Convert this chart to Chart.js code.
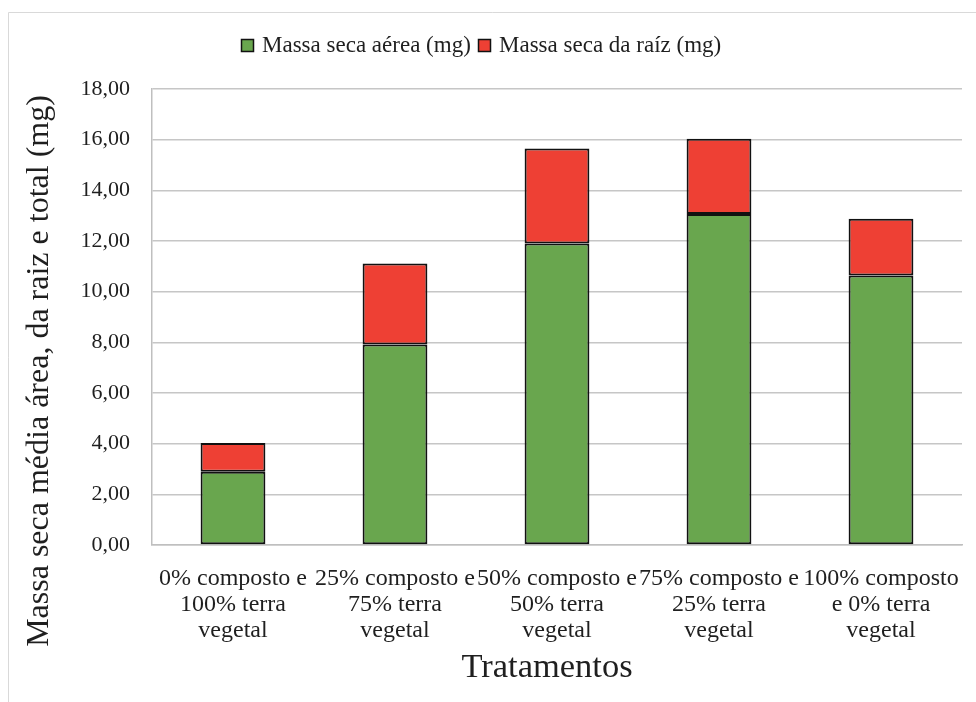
<!DOCTYPE html>
<html>
<head>
<meta charset="utf-8">
<script src="https://cdn.jsdelivr.net/npm/chart.js@4/dist/chart.umd.min.js"></script>
<style>
  html, body { margin: 0; padding: 0; background: #ffffff; }
  #wrap { width: 976px; height: 702px; }
</style>
</head>
<body>
<div id="wrap"><canvas id="c" width="976" height="702"></canvas></div>
<script>
// Treatments (multi-line category labels)
const treatments = [
  ['0% composto e', '100% terra', 'vegetal'],
  ['25% composto e', '75% terra', 'vegetal'],
  ['50% composto e', '50% terra', 'vegetal'],
  ['75% composto e', '25% terra', 'vegetal'],
  ['100% composto', 'e 0% terra', 'vegetal']
];
// Mean dry mass of shoots and roots (mg)
const massaAerea = [2.89, 7.91, 11.90, 13.07, 10.64];
const massaRaiz  = [1.14, 3.20, 3.75, 2.97, 2.24];
const yTicks = [0, 2, 4, 6, 8, 10, 12, 14, 16, 18];
const yTitle = 'Massa seca média área, da raiz e total (mg)';
const xTitle = 'Tratamentos';

const serif = '"Liberation Serif", "Times New Roman", serif';
const textColor = '#1f1f1f';

// white background, light frame, legend row and the two axis titles
const decorPlugin = {
  id: 'decor',
  beforeDraw(chart) {
    const ctx = chart.ctx;
    ctx.save();
    ctx.fillStyle = '#ffffff';
    ctx.fillRect(0, 0, chart.width, chart.height);
    ctx.strokeStyle = '#d9d9d9';
    ctx.lineWidth = 1;
    ctx.beginPath();
    ctx.moveTo(8.5, chart.height);
    ctx.lineTo(8.5, 12.5);
    ctx.lineTo(chart.width, 12.5);
    ctx.stroke();
    ctx.restore();
  },
  afterDraw(chart) {
    const ctx = chart.ctx;
    // legend: one swatch + label per dataset
    ctx.save();
    ctx.font = '23px ' + serif;
    ctx.textBaseline = 'middle';
    ctx.textAlign = 'left';
    const legendX = [241, 478];
    chart.data.datasets.forEach((ds, i) => {
      const x = legendX[i];
      ctx.fillStyle = ds.backgroundColor;
      ctx.fillRect(x, 39, 13, 13);
      ctx.strokeStyle = '#111111';
      ctx.lineWidth = 1.5;
      ctx.strokeRect(x + 0.5, 39.5, 12, 12);
      ctx.fillStyle = textColor;
      ctx.fillText(ds.label, x + 21, 46);
    });
    ctx.restore();

    ctx.save();
    ctx.fillStyle = textColor;
    ctx.textAlign = 'center';
    ctx.textBaseline = 'middle';
    ctx.font = '32px ' + serif;
    ctx.translate(40, 371);
    ctx.rotate(-Math.PI / 2);
    ctx.fillText(yTitle, 0, 0);
    ctx.restore();

    ctx.save();
    ctx.fillStyle = textColor;
    ctx.textAlign = 'center';
    ctx.textBaseline = 'middle';
    ctx.font = '34.5px ' + serif;
    ctx.fillText(xTitle, 547, 668);
    ctx.restore();
  }
};

new Chart(document.getElementById('c'), {
  type: 'bar',
  data: {
    labels: treatments,
    datasets: [
      {
        label: 'Massa seca aérea (mg)',
        data: massaAerea,
        backgroundColor: '#69a64e',
        borderColor: '#111111',
        borderWidth: 2,
        borderSkipped: false,
        barPercentage: 0.4,
        categoryPercentage: 1.0
      },
      {
        label: 'Massa seca da raíz (mg)',
        data: massaRaiz,
        backgroundColor: '#ee4034',
        borderColor: '#111111',
        borderWidth: 2,
        borderSkipped: false,
        barPercentage: 0.4,
        categoryPercentage: 1.0
      }
    ]
  },
  options: {
    responsive: false,
    animation: false,
    devicePixelRatio: 1,
    layout: { padding: { left: 8, right: 14, top: 89, bottom: 8 } },
    plugins: {
      legend: { display: false },
      tooltip: { enabled: false }
    },
    scales: {
      x: {
        stacked: true,
        grid: { display: false, drawTicks: false },
        border: { display: true, color: '#bfbfbf', width: 1.5 },
        ticks: {
          font: { family: serif, size: 24, lineHeight: 1.083 },
          color: textColor,
          padding: 21,
          maxRotation: 0,
          minRotation: 0,
          autoSkip: false
        },
        afterFit(scale) {
          scale.height = 149;
          scale.paddingLeft = 0;
          scale.paddingRight = 0;
        }
      },
      y: {
        stacked: true,
        min: 0,
        max: 18,
        afterBuildTicks(scale) { scale.ticks = yTicks.map(v => ({ value: v })); },
        grid: { color: '#c6c6c6', lineWidth: 1.5, drawTicks: false },
        border: { display: true, color: '#bfbfbf', width: 1.5 },
        ticks: {
          font: { family: serif, size: 22 },
          color: textColor,
          padding: 22,
          callback: v => v.toFixed(2).replace('.', ',')
        },
        afterFit(scale) {
          scale.width = 144;
          scale.paddingTop = 0;
          scale.paddingBottom = 0;
        }
      }
    }
  },
  plugins: [decorPlugin]
});
</script>
</body>
</html>
